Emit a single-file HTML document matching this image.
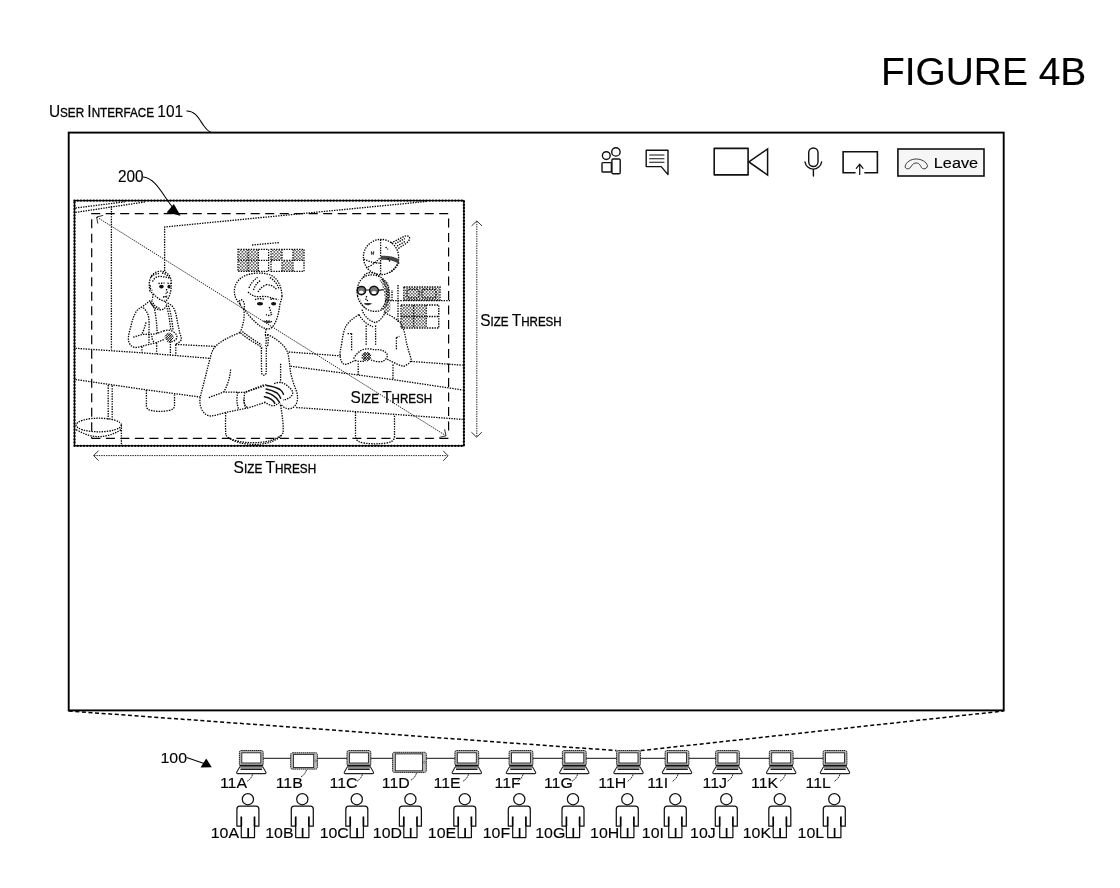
<!DOCTYPE html>
<html><head><meta charset="utf-8"><title>FIGURE 4B</title>
<style>
html,body{margin:0;padding:0;background:#fff;}
body{width:1120px;height:888px;overflow:hidden;font-family:"Liberation Sans",sans-serif;}
svg{display:block;transform:translateZ(0);font-family:"Liberation Sans",sans-serif;}
text{fill:#000;stroke:#000;stroke-width:0.14;}
.thin{fill:none;stroke:#000;stroke-width:1.05;}
.lead{fill:none;stroke:#222;stroke-width:0.95;stroke-dasharray:1.8 0.6;}
.ln{fill:none;stroke:#000;stroke-width:1.2;}
.zoomdash{fill:none;stroke:#000;stroke-width:1.5;stroke-dasharray:4 2.6;}
.dot{fill:none;stroke:#000;stroke-width:1.3;stroke-dasharray:1.4 1.15;}
.dotl{fill:none;stroke:#333;stroke-width:1;stroke-dasharray:1.2 1.5;}
.dash{fill:none;stroke:#000;stroke-width:1.2;stroke-dasharray:9 5.5;}
.ico{fill:none;stroke:#111;stroke-width:1.4;stroke-linejoin:round;stroke-linecap:round;}
.dim{fill:none;stroke:#222;stroke-width:1;stroke-dasharray:1.4 1;}
.dimh{fill:none;stroke:#333;stroke-width:1;}
</style></head>
<body>
<svg width="1120" height="888" viewBox="0 0 1120 888">
<defs><pattern id="ht" width="3.2" height="3.2" patternUnits="userSpaceOnUse"><rect x="0.1" y="0.1" width="1.3" height="1.3" fill="#111"/><rect x="1.7" y="1.7" width="1.3" height="1.3" fill="#111"/></pattern></defs>
<!-- frame -->
<rect x="68.7" y="132.6" width="935" height="577.8" fill="none" stroke="#000" stroke-width="1.9"/>
<text x="881.0" y="85.4" font-size="38.4" text-anchor="start" textLength="205.2" lengthAdjust="spacingAndGlyphs" >FIGURE 4B</text>
<text x="48.9" y="116.9" textLength="134.2" lengthAdjust="spacingAndGlyphs" xml:space="preserve"><tspan font-size="16.1">U</tspan><tspan font-size="12.2" stroke-width="0.32">SER</tspan><tspan font-size="12.2"> </tspan><tspan font-size="16.1">I</tspan><tspan font-size="12.2" stroke-width="0.32">NTERFACE</tspan><tspan font-size="12.2"> </tspan><tspan font-size="16.1">101</tspan></text>
<path d="M186.4 111 C196 110.5 200 121 204 126 C206.5 129.5 208.5 131.5 211.4 132.5" class="thin" />
<text x="118.0" y="182" font-size="16" text-anchor="start" textLength="25.6" lengthAdjust="spacingAndGlyphs" >200</text>
<path d="M143 177 C156 178 163 196 174 209" class="thin" />
<path d="M180.6 215.8 L166.6 212.4 L173.8 204 Z" fill="#000"/>
<path d="M68.7 711 L616.5 750.6" class="zoomdash" />
<path d="M640.6 750.6 L1003.6 711" class="zoomdash" />
<!-- toolbar -->
<g class="ico">
<circle cx="606.3" cy="155.6" r="3.9"/>
<circle cx="615.9" cy="151.9" r="4.2"/>
<rect x="602" y="162.6" width="9.4" height="9.4" rx="0.8"/>
<rect x="611.9" y="159" width="8.3" height="14.8" rx="1.2"/>
<path d="M646.2 150.2 H668 V174.6 L661.2 166.6 H646.2 Z"/>
<path d="M649.6 155 H664 M649.6 158.7 H664 M649.6 162.3 H664" stroke-width="1.1"/>
<rect x="714.2" y="148.4" width="33.9" height="26.5" stroke-width="1.6"/>
<path d="M748.9 161.9 L767.6 148.9 V175 Z" stroke-width="1.5" stroke-linejoin="miter"/>
<rect x="808.7" y="148" width="9.3" height="18.5" rx="4.65"/>
<path d="M805 162 A8.4 8.4 0 0 0 821.6 162 M813.4 169.6 V176"/>
<path d="M855.6 172.7 H843.1 V151.7 H877.4 V172.7 H864.3" stroke-width="1.6" stroke-linejoin="miter" stroke-linecap="butt"/>
<path d="M859.7 174.4 V164.3 M856.3 168.4 L859.7 164.2 L863 168.4" stroke-width="1.2"/>
</g>
<rect x="897.9" y="149" width="86.1" height="27" fill="#f6f6f6" stroke="#111" stroke-width="1.6"/>
<path d="M905.2 166.2 C906 162 911 159 916.3 159 C921.5 159 926.6 162 927.4 165.6 C927.6 167.6 925.6 169 923.6 168.8 C921.6 168.6 921.2 167 920.4 165.6 C919.4 163.8 918 163 916.2 163 C914.2 163 912.8 164 911.6 165.8 C910.6 167.4 909.6 168.8 907.6 168.8 C905.8 168.8 905 167.6 905.2 166.2 Z" fill="none" stroke="#222" stroke-width="0.9"/>
<text x="933.8" y="167.6" font-size="15.3" text-anchor="start" textLength="44.3" lengthAdjust="spacingAndGlyphs" >Leave</text>
<!-- sketch inside video -->
<g>
<path d="M75.5 208 L125 201.8" class="dot" />
<path d="M75.5 212.4 L146 201.8" class="dot" />
<path d="M111.4 206 V349.5" class="dot" />
<path d="M164.6 271 V227 L427 201.4" class="dot" />
<path d="M175.4 344.4 L215.4 346.4" class="dot" />
<path d="M288.8 352 L341 355.9" class="dot" />
<path d="M411 361.4 L462.6 365.2" class="dot" />
<path d="M75.5 348.3 L142 352.8 L210.5 358.4" class="dot" />
<path d="M290.6 366.2 L358 375 L393 379.6 L462.6 390" class="dot" />
<path d="M75.5 379.5 L146 389.8 L200 397" class="dot" />
<path d="M296.2 407.5 L355 411.6 L395 414.4 L462.6 419.4" class="dot" />
<path d="M108.2 385 V419.6 M112.2 385.6 V420" class="dot" />
<path d="M146.4 390 V406.5 Q147 410 152 410.6 Q160 412.4 169 410.4 Q174.2 409.6 174.5 406 V394" class="dot" />
<path d="M355.5 412 V437.5 Q356.5 442 364 443 Q375 444.6 386 443 Q393.6 442 394.5 437.5 V414.6" class="dot" />
<ellipse cx="98.8" cy="425" rx="22.6" ry="6.8" class="dot"/>
<path d="M76.2 429.6 Q98.8 443.6 121.4 429.6" class="dot" />
<path d="M121.4 425 V444.6" class="dot" />
<rect x="238.6" y="250" width="9.4" height="10" fill="url(#ht)" stroke="none"/>
<rect x="248.6" y="250" width="9.4" height="10" fill="url(#ht)" stroke="none"/>
<rect x="248.6" y="261" width="9.4" height="10" fill="url(#ht)" stroke="none"/>
<rect x="238.6" y="261" width="9.4" height="10" fill="url(#ht)" stroke="none"/>
<rect x="271.6" y="250" width="10" height="10" fill="url(#ht)" stroke="none"/>
<rect x="282.4" y="261" width="10" height="10" fill="url(#ht)" stroke="none"/>
<rect x="293.4" y="250" width="10" height="10" fill="url(#ht)" stroke="none"/>
<rect x="238" y="249.4" width="30.6" height="22" class="dot"/>
<rect x="271" y="249.4" width="33" height="22" class="dot"/>
<path d="M248.2 249.4 V271.4 M258.4 249.4 V271.4 M238 260.4 H268.6 M282 249.4 V271.4 M293 249.4 V271.4 M271 260.4 H304" class="dot" />
<path d="M252 245 L279 242.6" class="dot" stroke-width="1.6"/>
<path d="M385 300.6 H450" class="dot" />
<path d="M398 285 V322.5" class="dot" />
<rect x="404.4" y="287.6" width="35" height="11.8" fill="url(#ht)" stroke="none"/>
<rect x="401.6" y="305.6" width="24" height="21.8" fill="url(#ht)" stroke="none"/>
<rect x="403.8" y="287" width="36.2" height="13" class="dot"/>
<rect x="407" y="289.4" width="12" height="8.4" rx="2" fill="#fff" class="dot"/>
<rect x="422" y="289.4" width="14" height="8.4" rx="2" fill="#fff" class="dot"/>
<rect x="401" y="305" width="37.8" height="23" class="dot"/>
<path d="M413.6 305 V328 M426.2 305 V328 M401 316.5 H438.8" class="dot" />
<path d="M388 300.6 V288 M392 300.6 V290" class="dot" />
</g>
<!-- figures -->
<g>
<path d="M150 291 C148.2 283 149.4 274.6 157 271.8 C164 269.6 170.6 273.6 171.2 281 C171.6 287 171 292.6 168.6 297.4 C167.4 300.2 165.6 301.6 163.4 301 C159.6 299.8 155.6 296.6 153 293.4 C151.6 292.6 150.6 292.2 150 291 Z" class="dot" />
<path d="M152.6 281.6 C154 277.4 158 275.8 162 276.6 C165 277.2 168 277 170.6 279" class="dot" />
<path d="M151 277 C153.4 274.6 156.4 273.4 159 273.6 M162 273 C165 273.4 167.6 275.2 169.4 277.6" class="dot" />
<path d="M150.6 285.4 C149.6 287 150.4 289.8 152.4 290.4" class="dot" />
<ellipse cx="161.4" cy="286.6" rx="2.3" ry="1.9" fill="#111"/>
<ellipse cx="169" cy="286.6" rx="1.6" ry="1.9" fill="#111"/>
<path d="M158.4 283.4 L164.4 283 M167.4 283.2 L170.8 283.6" class="dot" />
<path d="M166.4 289 L167.4 293 L165.6 293.6 M163 297 L167.6 296.6" class="dot" />
<path d="M163 296.4 L167.4 295.6 L167 297.6 Z" fill="#333"/>
<path d="M153 294 L152.4 299.6 M165.4 301.4 L166.8 304.6" class="dot" />
<path d="M150.4 301.6 C152 306 155.4 309.6 160 309.8 C163 309.8 165 308.6 166.6 305.6" class="dot" />
<path d="M151.6 300.4 C153.6 305 156.4 308 160.2 308.2" class="dot" />
<path d="M150.2 300.6 L142.3 306.7 C138.6 308.6 136.6 310.4 135.4 313 C133 318 131.8 322 131 326 C129.6 331 128.4 335 128.4 338.6 C128.4 343 130.6 346.4 134.4 347.4 C137.4 347.8 140 346.6 142.4 346 L155.8 342.8 L164.6 339.2" class="dot" />
<path d="M133.2 337.2 L142.3 334.4 L155.6 334 L163.8 330.8" class="dot" />
<path d="M145.9 322.4 C145 326.6 143.4 331 141.8 334.2" class="dot" />
<path d="M143.2 307.6 C146.4 310.6 148.2 314 148.8 318 C149.2 322 149.2 326 149 330 V343" class="dot" />
<path d="M150.6 303 C153 305.4 154.6 308 155 311.6 C156 318 156.8 324 157 329.6 L157.4 333.4" class="dot" />
<path d="M166.4 305.6 C167.6 309.6 168.6 314 169.2 318 C169.8 322 170.4 326 170.8 329.6" class="dot" />
<path d="M168.4 305.6 C169.8 309.6 170.8 314 171.4 318 C172 322 172.6 326 173 329.6" class="dot" />
<path d="M167.6 303 C171 304.6 173.4 306.8 174.6 310 C176 313.6 176.6 317 177.2 320.6 C178 325 179 329 179.8 333 C180.6 335.4 181.4 337.4 181.4 339.4 C180.6 341.6 178 343.2 175.4 344.4" class="dot" />
<path d="M152 335.8 C151.6 338.4 152.6 340.6 154 342" class="dot" />
<path d="M163.6 331 C167 329.6 171 330 173.6 332 C176.4 333.6 177.4 336 176.6 338.4 C175 341.4 171 342.6 167 341.4" class="dot" />
<path d="M165.0 336.4 L168.6 332.8 M165.3 338.5 L170.7 333.1 M166.2 340.0 L172.2 334.0 M167.7 340.9 L173.1 335.5 M169.8 341.2 L173.4 337.6 " fill="none" stroke="#111" stroke-width="1.0"/>
<path d="M169.5 332.8 L173.4 336.7 M167.1 333.4 L172.8 339.1 M165.6 334.9 L171.3 340.6 M165.0 337.3 L168.9 341.2 " fill="none" stroke="#111" stroke-width="0.6"/>
<path d="M141.9 346.6 V352.6 M156.6 342.8 V353.8 M170.4 341.4 V355 M175.8 344.6 V355.6" class="dot" />
</g>
<g>
<path d="M240 304 C236 300 234 295 234.4 290 C235 282 241 276 250 274 C258 272.4 268 272.6 274 277 C279 281 281.6 288 282 296" class="dot" />
<path d="M249 288 C251 283 254 279.6 257.6 277.4 M253.4 290 C255 285.6 257.6 282 261 280 M258 292 C260 288.6 263 286 266 285 M266 284.6 C270 284.4 274.6 286.6 277 290 M270 277.6 C274 280 277.6 284 279 289" class="dot" />
<path d="M248 292 C252 296 256 297 261 296.6 C266 296 270 297 273 298.6" class="dot" />
<path d="M282 296 C281.6 300 280 303 279.6 306 C279.2 310 278.4 314 277 318 C275.6 322.6 273.6 326.4 270.4 328.6 C267 329.6 263 328 260 326 C254 321.4 247 314 243.6 308" class="dot" />
<path d="M240 304 C238.4 300.4 240.6 298.6 243 300.6 C244.6 303 245 306.6 243.6 309 C242 308 240.8 306 240 304" class="dot" />
<ellipse cx="260" cy="303.8" rx="3" ry="1.7" fill="#111"/>
<ellipse cx="273.6" cy="303.8" rx="2.6" ry="1.7" fill="#111"/>
<path d="M255 299.6 C258 298.4 262 298.4 265 299.6 M270.4 299.4 C273 298.4 276 298.6 278.4 300" class="dot" />
<path d="M269.4 307 C270 310 271 312.6 271.6 314.6 C270 315.8 267.6 315.8 266 314.6" class="dot" />
<path d="M263.4 321.4 C266 320.6 269 320.6 272 321.6" class="dot" />
<path d="M264 321.4 C266.6 323.6 269.6 323.8 271.8 321.8 C269.4 321 266.4 320.8 264 321.4 Z" fill="#333"/>
<path d="M243.8 309 C244.4 314 244.2 319 243.2 323 C242.4 326.6 241.2 330 240 332.6" class="dot" />
<path d="M266 329 C265.6 331 265.4 333 265.4 335" class="dot" />
<path d="M240 332.6 C232 335.6 224 339.6 218.6 343.6 C214.6 346.6 212.4 350 211 355 C209 362 207.4 369 205.6 376 C203.6 384 201.6 391 200.2 397.6 C199.4 402 200 406 202 410 C204 413.6 207 415.8 210.4 416 C215 415.6 220 414 226 412.4 L247.6 408 L265 402.6" class="dot" />
<path d="M240.6 333 C246 337.6 253 342 260.6 346.4 C261.4 347 261.8 347.6 262 348.4" class="dot" />
<path d="M242.4 331.6 C248 336 255 340.6 261.6 345" class="dot" />
<path d="M265.4 335 C266.4 338 266.4 342 265.6 346 M267.4 334.6 C268.6 338 268.4 342 267.6 346.4" class="dot" />
<path d="M261.4 347.6 C261.4 356 261.4 366 261.6 373 C262 375.8 265.6 376 266.2 373 C266.4 366 266.2 356 266.4 346" class="dot" />
<path d="M267.4 334.4 C274 337.6 280 341.6 284 346.4 C286.6 349.6 287.8 352 288.4 355.6 C289.4 361 289.8 366 290.4 371 C291.4 377 293.6 384 296 390 C297.6 394 298 398 297 402 C296 405.6 293.4 408 290 408.8 C286 409.2 282.6 406.6 280.2 403.8" class="dot" />
<path d="M280.6 363.8 V382.6" class="dot" />
<path d="M230.6 369.4 C230.4 376 227.6 385 223.8 392" class="dot" />
<path d="M208.8 397.6 L223.8 392 L245 392.4 L265 385.6" class="dot" />
<path d="M238 392.2 C236.4 397 236.6 403 238.6 409.4 M245 392.4 C243.6 397 243.8 403 245.6 408.4" class="dot" />
<path d="M245.8 391.8 L263.2 385.2 C265 384.6 266.6 384.8 268 385.6" class="dot" />
<path d="M244 399.4 C243.6 403 245 406 247.6 407.6" class="dot" />
<path d="M264.4 401.8 C267 403.6 270 405.4 272.6 405.8 C275 405.6 277 404.6 279 403" class="dot" />
<path d="M274.2 383.8 C276.4 382.6 278.6 382.2 280.6 382.5 C284 383 286.6 384.8 288.4 386.8 C290.6 388.6 292.4 390.4 292.8 392.4 C292.6 394.6 291.4 396.4 289.8 397.6 C287.6 398.8 285.4 399.6 283 400" class="dot" />
<path d="M266.7 385.4 C271 386 276.6 387.4 280 389.5 C282 391 283 392.6 283.5 394.2 M266.1 388.9 C270 389.6 274 391 277.1 393 C279 394.6 280 396.4 280.6 398.2 M266.1 392.4 C269 393 271.6 394.2 273.7 395.9 C276.4 397.8 278.4 400 279.5 402.3 M264.4 396.8 C267 397.2 269.4 398 271.3 399.4 C273 400.6 274.2 402 274.8 403.4" fill="none" stroke="#111" stroke-width="1.5" stroke-linecap="round"/>
<path d="M225.8 412.6 C225.4 420 225.4 428 225.8 435 C230 441 242 444.4 255 444.4 C268 444.4 279 440 283 433 C283.6 428 283 418 280.4 405" class="dot" />
<path d="M228 437.6 C236 441.6 246 443 256 442.6 C266 442.4 276 439.6 281.6 435" class="dot" />
</g>
<g>
<circle cx="381" cy="257" r="17.6" class="dot"/>
<path d="M380.6 239.6 V274.4" class="dot" />
<path d="M363.6 259 C370 262 376 263.4 381 263 M366 268 C371 266 376 262 380 258" class="dot" />
<path d="M381 256 C387 255.4 393 256.4 399.4 259.4 L398.4 263.4 C393 260.4 387 259.4 381 259.8 Z" fill="#444"/>
<path d="M391 243 L404.6 236.2 C407.6 235 410 236.6 409.6 239 C409 241.6 405 244.4 402 246 L397.6 249" class="dot" />
<path d="M395 243.6 L405 238.6 M397 246 L406 241" class="dot" />
<path d="M399 262.6 C397.6 266 394 270 390 272.4" class="dot" />
<path d="M371 251.6 l3 3 m0 -3 l-3 3 M385.6 247 l2.4 2.4 M388 258 l2 4" class="dot" />
<path d="M357.6 296 C356 288 358.6 280 365 276.4 C370 274 377 274.6 382 278 C387 282 389.6 288 389 295 C388.6 300 387 305 384 308.4 C380 311.6 374 312 370 310.6 C364 308.6 359 303 357.6 296 Z" class="dot" />
<path d="M363 277.6 C364 274.6 367 272.6 371 272.6 C375 272.8 378 274.6 380 277" class="dot" />
<path d="M382 279 C386 284 387.6 292 386 300 C385 304 383.4 307 381 309.4" class="dot" />
<path d="M378.8 278.4 C383 279 387 281 388.8 283.4 C390.4 292 390.8 302 390.2 311.6 C388 313 385.6 313.6 383.6 313 C385 307 385.4 300 384 293 C383 287 381 282 378.8 278.4 Z" fill="url(#ht)"/>
<circle cx="361.4" cy="290.6" r="4.2" fill="#777" stroke="#111" stroke-width="1.5"/>
<circle cx="374" cy="290.6" r="4.4" fill="#777" stroke="#111" stroke-width="1.5"/>
<ellipse cx="361.2" cy="292.2" rx="2.2" ry="1.4" fill="#fff"/>
<ellipse cx="374" cy="292.4" rx="2.4" ry="1.5" fill="#fff"/>
<path d="M365.6 290 H369.6 M378.4 290.4 L383.6 289.6" stroke="#111" stroke-width="1.2" fill="none"/>
<path d="M366.6 296 L365.8 300 L368 300.6" class="dot" />
<path d="M363.6 303.6 C366 305.8 369.6 305.8 372 303.4 C369 303 366 303 363.6 303.6 Z" fill="#333"/>
<path d="M359.6 297 C360.6 302 363.6 306.6 367.6 309 C364 309.6 360 305 359.6 297 Z" fill="url(#ht)"/>
<path d="M362 309.6 C364 316 369 321 375.6 322.6 C380 321 384 316 385.6 311" class="dot" />
<path d="M359 314.6 C362 320 367 324.6 373 326.6" class="dot" />
<path d="M359 314.6 C353 318 348.4 322 345.6 326.8 C343.6 331 342.6 337 341.8 343 C341 348 340 351 340 354 C340 359 341.4 363 344.2 364.4 C348 364.4 351.6 362 355 360.4" class="dot" />
<path d="M384.6 313 C390 315 396 318.6 400.4 322.8 C403.6 327 405 334 406 340 C407 346 409 352 411 358.6 C411.4 361.6 408.6 364.6 403.4 366.4 C398 365 392 361.6 387.2 359.2" class="dot" />
<path d="M366.2 325.6 V345.6 M375.6 325.6 V345.6" class="dot" />
<path d="M351.6 333.6 V351 M396.4 337.6 V349.6" class="dot" />
<path d="M347.6 333.6 L351.6 333.6 M396.4 337.6 L399.4 336.4" class="dot" />
<path d="M353.6 358.6 C356 354 360 350.4 364 349.2 C368 348.6 372 349 375 349.8 C380 349 385 350.6 387 354 C388 357 386 360 382 361.6 C378 362.2 374 361 371 360" class="dot" />
<path d="M355 360.4 C358 361.6 361 361.6 364 361" class="dot" />
<path d="M361.8 355.9 L365.7 352.0 M362.1 358.3 L368.1 352.3 M363.1 359.9 L369.7 353.3 M364.7 360.9 L370.7 354.9 M367.1 361.2 L371.0 357.3 " fill="none" stroke="#111" stroke-width="1.0"/>
<path d="M367.1 352.0 L371.0 355.9 M364.7 352.3 L370.7 358.3 M363.1 353.3 L369.7 359.9 M362.1 354.9 L368.1 360.9 M361.8 357.3 L365.7 361.2 " fill="none" stroke="#111" stroke-width="1.0"/>
<path d="M358.2 363.4 V375 M393 364.6 V379.4" class="dot" />
</g>
<!-- video frame -->
<rect x="74.5" y="200.6" width="389.4" height="245.2" fill="none" stroke="#111" stroke-width="1.35"/>
<rect x="74.5" y="200.6" width="389.4" height="245.2" fill="none" stroke="#000" stroke-width="2.3" stroke-dasharray="0.1 3.1" stroke-linecap="round"/>
<path d="M91.2 213.6 H449.6" class="dash"/>
<path d="M91.4 438.4 H449.6" class="dash"/>
<path d="M91.7 219.3 V438" class="dash"/>
<path d="M448.6 218.4 V432" class="dash"/>
<path d="M97 217.2 L445.8 435.6" class="dim"/>
<path d="M103.2 215.4 L96.6 217 L97.8 223.6" class="dimh"/>
<path d="M444.6 429.2 L446 435.8 L439.4 437.4" class="dimh"/>
<path d="M476.8 221.4 V436.6" class="dim"/>
<path d="M471.6 225.9 L476.8 220.9 L482 225.9" class="dimh"/>
<path d="M471.4 432.2 L476.6 437.2 L481.8 432.2" class="dimh"/>
<path d="M94 455.6 H447.6" class="dim"/>
<path d="M98.6 450.6 L93.6 455.6 L98.6 460.6" class="dimh"/>
<path d="M443.2 450.8 L448 455.8 L443.2 460.8" class="dimh"/>
<text x="480.2" y="326.2" textLength="81.5" lengthAdjust="spacingAndGlyphs" xml:space="preserve"><tspan font-size="16.5">S</tspan><tspan font-size="12.4" stroke-width="0.32">IZE</tspan><tspan font-size="12.4"> </tspan><tspan font-size="16.5">T</tspan><tspan font-size="12.4" stroke-width="0.32">HRESH</tspan></text>
<text x="233.6" y="472.6" textLength="82.5" lengthAdjust="spacingAndGlyphs" xml:space="preserve"><tspan font-size="16.5">S</tspan><tspan font-size="12.4" stroke-width="0.32">IZE</tspan><tspan font-size="12.4"> </tspan><tspan font-size="16.5">T</tspan><tspan font-size="12.4" stroke-width="0.32">HRESH</tspan></text>
<text x="350.6" y="402.6" textLength="81.5" lengthAdjust="spacingAndGlyphs" xml:space="preserve"><tspan font-size="16.5">S</tspan><tspan font-size="12.4" stroke-width="0.32">IZE</tspan><tspan font-size="12.4"> </tspan><tspan font-size="16.5">T</tspan><tspan font-size="12.4" stroke-width="0.32">HRESH</tspan></text>
<!-- devices and users -->
<path d="M251 758.3 H835" stroke="#111" stroke-width="1" fill="none"/>
<g>
<rect x="239.40" y="750.50" width="23.80" height="15.2" rx="1.8" fill="#b4b4b4" stroke="#222" stroke-width="1" stroke-dasharray="1.6 0.5"/>
<rect x="241.80" y="752.80" width="19.00" height="10.2" fill="#fff" stroke="#222" stroke-width="0.9"/>
<path d="M239.50 765.60 H263.10" stroke="#111" stroke-width="1.6" fill="none"/>
<path d="M239.70 767.00 H262.90 L265.90 772.20 Q266.30 773.60 264.90 773.60 H237.70 Q236.30 773.60 236.70 772.20 Z" fill="#fff" stroke="#222" stroke-width="1.1" stroke-linejoin="round"/>
<path d="M240.50 769.20 H262.10" stroke="#111" stroke-width="1.5" fill="none"/>
</g>
<g>
<rect x="347.00" y="750.50" width="23.80" height="15.2" rx="1.8" fill="#b4b4b4" stroke="#222" stroke-width="1" stroke-dasharray="1.6 0.5"/>
<rect x="349.40" y="752.80" width="19.00" height="10.2" fill="#fff" stroke="#222" stroke-width="0.9"/>
<path d="M347.10 765.60 H370.70" stroke="#111" stroke-width="1.6" fill="none"/>
<path d="M347.30 767.00 H370.50 L373.50 772.20 Q373.90 773.60 372.50 773.60 H345.30 Q343.90 773.60 344.30 772.20 Z" fill="#fff" stroke="#222" stroke-width="1.1" stroke-linejoin="round"/>
<path d="M348.10 769.20 H369.70" stroke="#111" stroke-width="1.5" fill="none"/>
</g>
<g>
<rect x="454.90" y="750.50" width="23.80" height="15.2" rx="1.8" fill="#b4b4b4" stroke="#222" stroke-width="1" stroke-dasharray="1.6 0.5"/>
<rect x="457.30" y="752.80" width="19.00" height="10.2" fill="#fff" stroke="#222" stroke-width="0.9"/>
<path d="M455.00 765.60 H478.60" stroke="#111" stroke-width="1.6" fill="none"/>
<path d="M455.20 767.00 H478.40 L481.40 772.20 Q481.80 773.60 480.40 773.60 H453.20 Q451.80 773.60 452.20 772.20 Z" fill="#fff" stroke="#222" stroke-width="1.1" stroke-linejoin="round"/>
<path d="M456.00 769.20 H477.60" stroke="#111" stroke-width="1.5" fill="none"/>
</g>
<g>
<rect x="509.10" y="750.50" width="23.80" height="15.2" rx="1.8" fill="#b4b4b4" stroke="#222" stroke-width="1" stroke-dasharray="1.6 0.5"/>
<rect x="511.50" y="752.80" width="19.00" height="10.2" fill="#fff" stroke="#222" stroke-width="0.9"/>
<path d="M509.20 765.60 H532.80" stroke="#111" stroke-width="1.6" fill="none"/>
<path d="M509.40 767.00 H532.60 L535.60 772.20 Q536.00 773.60 534.60 773.60 H507.40 Q506.00 773.60 506.40 772.20 Z" fill="#fff" stroke="#222" stroke-width="1.1" stroke-linejoin="round"/>
<path d="M510.20 769.20 H531.80" stroke="#111" stroke-width="1.5" fill="none"/>
</g>
<g>
<rect x="562.40" y="750.50" width="23.80" height="15.2" rx="1.8" fill="#b4b4b4" stroke="#222" stroke-width="1" stroke-dasharray="1.6 0.5"/>
<rect x="564.80" y="752.80" width="19.00" height="10.2" fill="#fff" stroke="#222" stroke-width="0.9"/>
<path d="M562.50 765.60 H586.10" stroke="#111" stroke-width="1.6" fill="none"/>
<path d="M562.70 767.00 H585.90 L588.90 772.20 Q589.30 773.60 587.90 773.60 H560.70 Q559.30 773.60 559.70 772.20 Z" fill="#fff" stroke="#222" stroke-width="1.1" stroke-linejoin="round"/>
<path d="M563.50 769.20 H585.10" stroke="#111" stroke-width="1.5" fill="none"/>
</g>
<g>
<rect x="616.60" y="750.50" width="23.80" height="15.2" rx="1.8" fill="#b4b4b4" stroke="#222" stroke-width="1" stroke-dasharray="1.6 0.5"/>
<rect x="619.00" y="752.80" width="19.00" height="10.2" fill="#fff" stroke="#222" stroke-width="0.9"/>
<path d="M616.70 765.60 H640.30" stroke="#111" stroke-width="1.6" fill="none"/>
<path d="M616.90 767.00 H640.10 L643.10 772.20 Q643.50 773.60 642.10 773.60 H614.90 Q613.50 773.60 613.90 772.20 Z" fill="#fff" stroke="#222" stroke-width="1.1" stroke-linejoin="round"/>
<path d="M617.70 769.20 H639.30" stroke="#111" stroke-width="1.5" fill="none"/>
</g>
<g>
<rect x="665.10" y="750.50" width="23.80" height="15.2" rx="1.8" fill="#b4b4b4" stroke="#222" stroke-width="1" stroke-dasharray="1.6 0.5"/>
<rect x="667.50" y="752.80" width="19.00" height="10.2" fill="#fff" stroke="#222" stroke-width="0.9"/>
<path d="M665.20 765.60 H688.80" stroke="#111" stroke-width="1.6" fill="none"/>
<path d="M665.40 767.00 H688.60 L691.60 772.20 Q692.00 773.60 690.60 773.60 H663.40 Q662.00 773.60 662.40 772.20 Z" fill="#fff" stroke="#222" stroke-width="1.1" stroke-linejoin="round"/>
<path d="M666.20 769.20 H687.80" stroke="#111" stroke-width="1.5" fill="none"/>
</g>
<g>
<rect x="715.60" y="750.50" width="23.80" height="15.2" rx="1.8" fill="#b4b4b4" stroke="#222" stroke-width="1" stroke-dasharray="1.6 0.5"/>
<rect x="718.00" y="752.80" width="19.00" height="10.2" fill="#fff" stroke="#222" stroke-width="0.9"/>
<path d="M715.70 765.60 H739.30" stroke="#111" stroke-width="1.6" fill="none"/>
<path d="M715.90 767.00 H739.10 L742.10 772.20 Q742.50 773.60 741.10 773.60 H713.90 Q712.50 773.60 712.90 772.20 Z" fill="#fff" stroke="#222" stroke-width="1.1" stroke-linejoin="round"/>
<path d="M716.70 769.20 H738.30" stroke="#111" stroke-width="1.5" fill="none"/>
</g>
<g>
<rect x="769.30" y="750.50" width="23.80" height="15.2" rx="1.8" fill="#b4b4b4" stroke="#222" stroke-width="1" stroke-dasharray="1.6 0.5"/>
<rect x="771.70" y="752.80" width="19.00" height="10.2" fill="#fff" stroke="#222" stroke-width="0.9"/>
<path d="M769.40 765.60 H793.00" stroke="#111" stroke-width="1.6" fill="none"/>
<path d="M769.60 767.00 H792.80 L795.80 772.20 Q796.20 773.60 794.80 773.60 H767.60 Q766.20 773.60 766.60 772.20 Z" fill="#fff" stroke="#222" stroke-width="1.1" stroke-linejoin="round"/>
<path d="M770.40 769.20 H792.00" stroke="#111" stroke-width="1.5" fill="none"/>
</g>
<g>
<rect x="823.10" y="750.50" width="23.80" height="15.2" rx="1.8" fill="#b4b4b4" stroke="#222" stroke-width="1" stroke-dasharray="1.6 0.5"/>
<rect x="825.50" y="752.80" width="19.00" height="10.2" fill="#fff" stroke="#222" stroke-width="0.9"/>
<path d="M823.20 765.60 H846.80" stroke="#111" stroke-width="1.6" fill="none"/>
<path d="M823.40 767.00 H846.60 L849.60 772.20 Q850.00 773.60 848.60 773.60 H821.40 Q820.00 773.60 820.40 772.20 Z" fill="#fff" stroke="#222" stroke-width="1.1" stroke-linejoin="round"/>
<path d="M824.20 769.20 H845.80" stroke="#111" stroke-width="1.5" fill="none"/>
</g>
<rect x="290.7" y="752.8" width="26.70" height="16.30" rx="1.6" fill="#bdbdbd" stroke="#222" stroke-width="1" stroke-dasharray="1.6 0.5"/>
<rect x="293.4" y="754.4" width="20.30" height="13.10" fill="#fff" stroke="#222" stroke-width="0.9"/>
<circle cx="315.70" cy="760.95" r="0.9" fill="#fff" stroke="#333" stroke-width="0.6"/>
<rect x="392.6" y="752.3" width="33.70" height="20.10" rx="1.6" fill="#bdbdbd" stroke="#222" stroke-width="1" stroke-dasharray="1.6 0.5"/>
<rect x="395.3" y="753.9" width="27.30" height="16.90" fill="#fff" stroke="#222" stroke-width="0.9"/>
<circle cx="424.60" cy="762.35" r="0.9" fill="#fff" stroke="#333" stroke-width="0.6"/>
<text x="219.96" y="787.9" font-size="15.0" text-anchor="start" textLength="27.11" lengthAdjust="spacingAndGlyphs" >11A</text>
<text x="275.66" y="787.9" font-size="15.0" text-anchor="start" textLength="27.11" lengthAdjust="spacingAndGlyphs" >11B</text>
<text x="329.56" y="787.9" font-size="15.0" text-anchor="start" textLength="27.99" lengthAdjust="spacingAndGlyphs" >11C</text>
<text x="381.76" y="787.9" font-size="15.0" text-anchor="start" textLength="27.99" lengthAdjust="spacingAndGlyphs" >11D</text>
<text x="433.56" y="787.9" font-size="15.0" text-anchor="start" textLength="27.11" lengthAdjust="spacingAndGlyphs" >11E</text>
<text x="494.56" y="787.9" font-size="15.0" text-anchor="start" textLength="26.22" lengthAdjust="spacingAndGlyphs" >11F</text>
<text x="543.96" y="787.9" font-size="15.0" text-anchor="start" textLength="28.87" lengthAdjust="spacingAndGlyphs" >11G</text>
<text x="598.36" y="787.9" font-size="15.0" text-anchor="start" textLength="27.99" lengthAdjust="spacingAndGlyphs" >11H</text>
<text x="647.16" y="787.9" font-size="15.0" text-anchor="start" textLength="20.92" lengthAdjust="spacingAndGlyphs" >11I</text>
<text x="702.56" y="787.9" font-size="15.0" text-anchor="start" textLength="24.46" lengthAdjust="spacingAndGlyphs" >11J</text>
<text x="751.06" y="787.9" font-size="15.0" text-anchor="start" textLength="27.11" lengthAdjust="spacingAndGlyphs" >11K</text>
<text x="805.56" y="787.9" font-size="15.0" text-anchor="start" textLength="25.35" lengthAdjust="spacingAndGlyphs" >11L</text>
<path d="M252.7 774.3 C251.5 777.5 249.7 779.9 247.1 781.3" class="lead"/>
<path d="M306.5 770 C305.3 773.2 303.5 775.6 300.9 777.0" class="lead"/>
<path d="M362.5 774.3 C361.3 777.5 359.5 779.9 356.9 781.3" class="lead"/>
<path d="M416.5 773.2 C415.3 776.4 413.5 778.8 410.9 780.2" class="lead"/>
<path d="M468.6 774.3 C467.4 777.5 465.6 779.9 463.0 781.3" class="lead"/>
<path d="M523.2 774.3 C522.0 777.5 520.2 779.9 517.6 781.3" class="lead"/>
<path d="M577.6 774.3 C576.4 777.5 574.6 779.9 572.0 781.3" class="lead"/>
<path d="M633.2 774.3 C632.0 777.5 630.2 779.9 627.6 781.3" class="lead"/>
<path d="M678.1 774.3 C676.9 777.5 675.1 779.9 672.5 781.3" class="lead"/>
<path d="M733.0 774.3 C731.8 777.5 730.0 779.9 727.4 781.3" class="lead"/>
<path d="M785.5 774.3 C784.3 777.5 782.5 779.9 779.9 781.3" class="lead"/>
<path d="M840.0 774.3 C838.8 777.5 837.0 779.9 834.4 781.3" class="lead"/>
<circle cx="247.90" cy="799.2" r="5.6" fill="#fff" stroke="#111" stroke-width="1.25"/>
<path d="M239.90 806.2 H255.90 Q258.90 806.2 258.90 809.2 V826.2 H254.50 V837.6 H241.30 V826.2 H236.90 V809.2 Q236.90 806.2 239.90 806.2 Z" fill="#fff" stroke="#111" stroke-width="1.25" stroke-linejoin="round"/>
<path d="M241.30 816.6 V826.2 M254.50 816.6 V826.2 M248.20 828 V837.6" fill="none" stroke="#000" stroke-width="1.7"/>
<circle cx="302.30" cy="799.2" r="5.6" fill="#fff" stroke="#111" stroke-width="1.25"/>
<path d="M294.30 806.2 H310.30 Q313.30 806.2 313.30 809.2 V826.2 H308.90 V837.6 H295.70 V826.2 H291.30 V809.2 Q291.30 806.2 294.30 806.2 Z" fill="#fff" stroke="#111" stroke-width="1.25" stroke-linejoin="round"/>
<path d="M295.70 816.6 V826.2 M308.90 816.6 V826.2 M302.60 828 V837.6" fill="none" stroke="#000" stroke-width="1.7"/>
<circle cx="356.80" cy="799.2" r="5.6" fill="#fff" stroke="#111" stroke-width="1.25"/>
<path d="M348.80 806.2 H364.80 Q367.80 806.2 367.80 809.2 V826.2 H363.40 V837.6 H350.20 V826.2 H345.80 V809.2 Q345.80 806.2 348.80 806.2 Z" fill="#fff" stroke="#111" stroke-width="1.25" stroke-linejoin="round"/>
<path d="M350.20 816.6 V826.2 M363.40 816.6 V826.2 M357.10 828 V837.6" fill="none" stroke="#000" stroke-width="1.7"/>
<circle cx="410.40" cy="799.2" r="5.6" fill="#fff" stroke="#111" stroke-width="1.25"/>
<path d="M402.40 806.2 H418.40 Q421.40 806.2 421.40 809.2 V826.2 H417.00 V837.6 H403.80 V826.2 H399.40 V809.2 Q399.40 806.2 402.40 806.2 Z" fill="#fff" stroke="#111" stroke-width="1.25" stroke-linejoin="round"/>
<path d="M403.80 816.6 V826.2 M417.00 816.6 V826.2 M410.70 828 V837.6" fill="none" stroke="#000" stroke-width="1.7"/>
<circle cx="464.80" cy="799.2" r="5.6" fill="#fff" stroke="#111" stroke-width="1.25"/>
<path d="M456.80 806.2 H472.80 Q475.80 806.2 475.80 809.2 V826.2 H471.40 V837.6 H458.20 V826.2 H453.80 V809.2 Q453.80 806.2 456.80 806.2 Z" fill="#fff" stroke="#111" stroke-width="1.25" stroke-linejoin="round"/>
<path d="M458.20 816.6 V826.2 M471.40 816.6 V826.2 M465.10 828 V837.6" fill="none" stroke="#000" stroke-width="1.7"/>
<circle cx="519.30" cy="799.2" r="5.6" fill="#fff" stroke="#111" stroke-width="1.25"/>
<path d="M511.30 806.2 H527.30 Q530.30 806.2 530.30 809.2 V826.2 H525.90 V837.6 H512.70 V826.2 H508.30 V809.2 Q508.30 806.2 511.30 806.2 Z" fill="#fff" stroke="#111" stroke-width="1.25" stroke-linejoin="round"/>
<path d="M512.70 816.6 V826.2 M525.90 816.6 V826.2 M519.60 828 V837.6" fill="none" stroke="#000" stroke-width="1.7"/>
<circle cx="573.00" cy="799.2" r="5.6" fill="#fff" stroke="#111" stroke-width="1.25"/>
<path d="M565.00 806.2 H581.00 Q584.00 806.2 584.00 809.2 V826.2 H579.60 V837.6 H566.40 V826.2 H562.00 V809.2 Q562.00 806.2 565.00 806.2 Z" fill="#fff" stroke="#111" stroke-width="1.25" stroke-linejoin="round"/>
<path d="M566.40 816.6 V826.2 M579.60 816.6 V826.2 M573.30 828 V837.6" fill="none" stroke="#000" stroke-width="1.7"/>
<circle cx="627.30" cy="799.2" r="5.6" fill="#fff" stroke="#111" stroke-width="1.25"/>
<path d="M619.30 806.2 H635.30 Q638.30 806.2 638.30 809.2 V826.2 H633.90 V837.6 H620.70 V826.2 H616.30 V809.2 Q616.30 806.2 619.30 806.2 Z" fill="#fff" stroke="#111" stroke-width="1.25" stroke-linejoin="round"/>
<path d="M620.70 816.6 V826.2 M633.90 816.6 V826.2 M627.60 828 V837.6" fill="none" stroke="#000" stroke-width="1.7"/>
<circle cx="675.30" cy="799.2" r="5.6" fill="#fff" stroke="#111" stroke-width="1.25"/>
<path d="M667.30 806.2 H683.30 Q686.30 806.2 686.30 809.2 V826.2 H681.90 V837.6 H668.70 V826.2 H664.30 V809.2 Q664.30 806.2 667.30 806.2 Z" fill="#fff" stroke="#111" stroke-width="1.25" stroke-linejoin="round"/>
<path d="M668.70 816.6 V826.2 M681.90 816.6 V826.2 M675.60 828 V837.6" fill="none" stroke="#000" stroke-width="1.7"/>
<circle cx="726.30" cy="799.2" r="5.6" fill="#fff" stroke="#111" stroke-width="1.25"/>
<path d="M718.30 806.2 H734.30 Q737.30 806.2 737.30 809.2 V826.2 H732.90 V837.6 H719.70 V826.2 H715.30 V809.2 Q715.30 806.2 718.30 806.2 Z" fill="#fff" stroke="#111" stroke-width="1.25" stroke-linejoin="round"/>
<path d="M719.70 816.6 V826.2 M732.90 816.6 V826.2 M726.60 828 V837.6" fill="none" stroke="#000" stroke-width="1.7"/>
<circle cx="779.80" cy="799.2" r="5.6" fill="#fff" stroke="#111" stroke-width="1.25"/>
<path d="M771.80 806.2 H787.80 Q790.80 806.2 790.80 809.2 V826.2 H786.40 V837.6 H773.20 V826.2 H768.80 V809.2 Q768.80 806.2 771.80 806.2 Z" fill="#fff" stroke="#111" stroke-width="1.25" stroke-linejoin="round"/>
<path d="M773.20 816.6 V826.2 M786.40 816.6 V826.2 M780.10 828 V837.6" fill="none" stroke="#000" stroke-width="1.7"/>
<circle cx="834.30" cy="799.2" r="5.6" fill="#fff" stroke="#111" stroke-width="1.25"/>
<path d="M826.30 806.2 H842.30 Q845.30 806.2 845.30 809.2 V826.2 H840.90 V837.6 H827.70 V826.2 H823.30 V809.2 Q823.30 806.2 826.30 806.2 Z" fill="#fff" stroke="#111" stroke-width="1.25" stroke-linejoin="round"/>
<path d="M827.70 816.6 V826.2 M840.90 816.6 V826.2 M834.60 828 V837.6" fill="none" stroke="#000" stroke-width="1.7"/>
<text x="210.76" y="838.2" font-size="15.0" text-anchor="start" textLength="28.29" lengthAdjust="spacingAndGlyphs" >10A</text>
<text x="265.26" y="838.2" font-size="15.0" text-anchor="start" textLength="28.29" lengthAdjust="spacingAndGlyphs" >10B</text>
<text x="319.66" y="838.2" font-size="15.0" text-anchor="start" textLength="29.17" lengthAdjust="spacingAndGlyphs" >10C</text>
<text x="372.86" y="838.2" font-size="15.0" text-anchor="start" textLength="29.17" lengthAdjust="spacingAndGlyphs" >10D</text>
<text x="427.86" y="838.2" font-size="15.0" text-anchor="start" textLength="28.29" lengthAdjust="spacingAndGlyphs" >10E</text>
<text x="482.76" y="838.2" font-size="15.0" text-anchor="start" textLength="27.4" lengthAdjust="spacingAndGlyphs" >10F</text>
<text x="535.26" y="838.2" font-size="15.0" text-anchor="start" textLength="30.05" lengthAdjust="spacingAndGlyphs" >10G</text>
<text x="590.06" y="838.2" font-size="15.0" text-anchor="start" textLength="29.17" lengthAdjust="spacingAndGlyphs" >10H</text>
<text x="641.86" y="838.2" font-size="15.0" text-anchor="start" textLength="22.1" lengthAdjust="spacingAndGlyphs" >10I</text>
<text x="690.06" y="838.2" font-size="15.0" text-anchor="start" textLength="25.64" lengthAdjust="spacingAndGlyphs" >10J</text>
<text x="742.76" y="838.2" font-size="15.0" text-anchor="start" textLength="28.29" lengthAdjust="spacingAndGlyphs" >10K</text>
<text x="797.56" y="838.2" font-size="15.0" text-anchor="start" textLength="26.53" lengthAdjust="spacingAndGlyphs" >10L</text>
<text x="160.46" y="762.6" font-size="15.0" text-anchor="start" textLength="26.53" lengthAdjust="spacingAndGlyphs" >100</text>
<path d="M186.6 757.6 L204 763.4" class="thin" stroke-width="1"/>
<path d="M211.8 767.2 L200.6 767.4 L206.2 758.4 Z" fill="#000"/>
</svg>
</body></html>
